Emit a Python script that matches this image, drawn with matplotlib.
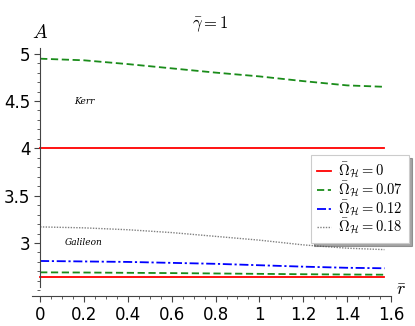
import matplotlib
matplotlib.use("Agg")
import matplotlib.pyplot as plt
from matplotlib.ticker import MultipleLocator

plt.rcParams['mathtext.fontset'] = 'cm'

# r values (0 .. pi/2)
r = [0.0, 0.2, 0.4, 0.6, 0.8, 1.0, 1.2, 1.4, 1.57]

# Kerr branch
kerr_0 = [4.0, 4.0, 4.0, 4.0, 4.0, 4.0, 4.0, 4.0, 4.0]
kerr_007 = [4.947, 4.93, 4.89, 4.845, 4.80, 4.76, 4.71, 4.665, 4.65]

# Galileon branch
gal_0 = [2.64, 2.64, 2.64, 2.64, 2.64, 2.64, 2.64, 2.64, 2.64]
gal_007 = [2.69, 2.688, 2.685, 2.682, 2.678, 2.674, 2.67, 2.667, 2.665]
gal_012 = [2.81, 2.805, 2.80, 2.79, 2.78, 2.765, 2.75, 2.738, 2.733]
gal_018 = [3.17, 3.16, 3.14, 3.11, 3.07, 3.03, 2.98, 2.945, 2.93]

labels = [r'$\bar{\Omega}_{\mathcal{H}}=0$', r'$\bar{\Omega}_{\mathcal{H}}=0.07$',
          r'$\bar{\Omega}_{\mathcal{H}}=0.12$', r'$\bar{\Omega}_{\mathcal{H}}=0.18$']

fig = plt.figure(figsize=(4.15, 3.26), dpi=100)
ax = fig.add_axes([32/415, 30/326, 359/415, 248/326])

red = '#ff0000'
green = '#1a8c1a'
blue = '#0000ff'
grey = '#808080'

l0, = ax.plot(r, kerr_0, color=red, lw=1.3)
ax.plot(r, gal_0, color=red, lw=1.3)
l1, = ax.plot(r, kerr_007, color=green, lw=1.3, ls=(0, (4, 2)))
ax.plot(r, gal_007, color=green, lw=1.3, ls=(0, (4, 2)))
l2, = ax.plot(r, gal_012, color=blue, lw=1.3, ls=(0, (5, 1.5, 1.2, 1.5)))
l3, = ax.plot(r, gal_018, color=grey, lw=1.0, ls=(0, (1, 1)))

ax.set_xlim(-0.037, 1.6)
ax.set_ylim(2.44, 5.06)

ax.spines['top'].set_visible(False)
ax.spines['right'].set_visible(False)
ax.spines['left'].set_position(('data', 0))
ax.spines['left'].set_bounds(2.54, 5.06)
for s in ['left', 'bottom']:
    ax.spines[s].set_color('#444444')
    ax.spines[s].set_linewidth(0.8)

ax.xaxis.set_major_locator(MultipleLocator(0.2))
ax.xaxis.set_minor_locator(MultipleLocator(0.05))
ax.yaxis.set_major_locator(MultipleLocator(0.5))
ax.yaxis.set_minor_locator(MultipleLocator(0.1))
ax.set_xticks([0, 0.2, 0.4, 0.6, 0.8, 1.0, 1.2, 1.4, 1.6])
ax.set_xticklabels(['0', '0.2', '0.4', '0.6', '0.8', '1', '1.2', '1.4', '1.6'])
ax.set_yticks([3, 3.5, 4, 4.5, 5])
ax.set_yticklabels(['3', '3.5', '4', '4.5', '5'])
ax.tick_params(which='major', length=4, width=0.8, labelsize=12, color='#444444', pad=3)
ax.tick_params(which='minor', length=2.5, width=0.6, color='#444444')

ax.text(0.0, 5.12, r'$A$', fontsize=14, ha='center', va='bottom')
ax.text(1.645, 2.50, r'$\bar{r}$', fontsize=13, ha='center', va='center')
fig.text(210/415, 1 - 24/326, r'$\bar{\gamma}=1$', fontsize=12, ha='center', va='center')

ax.text(0.2, 4.5, 'Kerr', fontsize=6.5, style='italic', family='DejaVu Serif',
        ha='center', va='center')
ax.text(0.2, 3.0, 'Galileon', fontsize=6.5, style='italic', family='DejaVu Serif',
        ha='center', va='center')

leg = ax.legend([l0, l1, l2, l3], labels, loc='upper right',
                bbox_to_anchor=(1.05, 0.569), borderaxespad=0, fontsize=10.5,
                fancybox=False, shadow=True, handlelength=0.95, handletextpad=0.5,
                labelspacing=-0.12, borderpad=0.4, framealpha=1)
leg.get_frame().set_edgecolor('#cccccc')
leg.get_frame().set_linewidth(0.8)

fig.savefig('out.png', dpi=100)
